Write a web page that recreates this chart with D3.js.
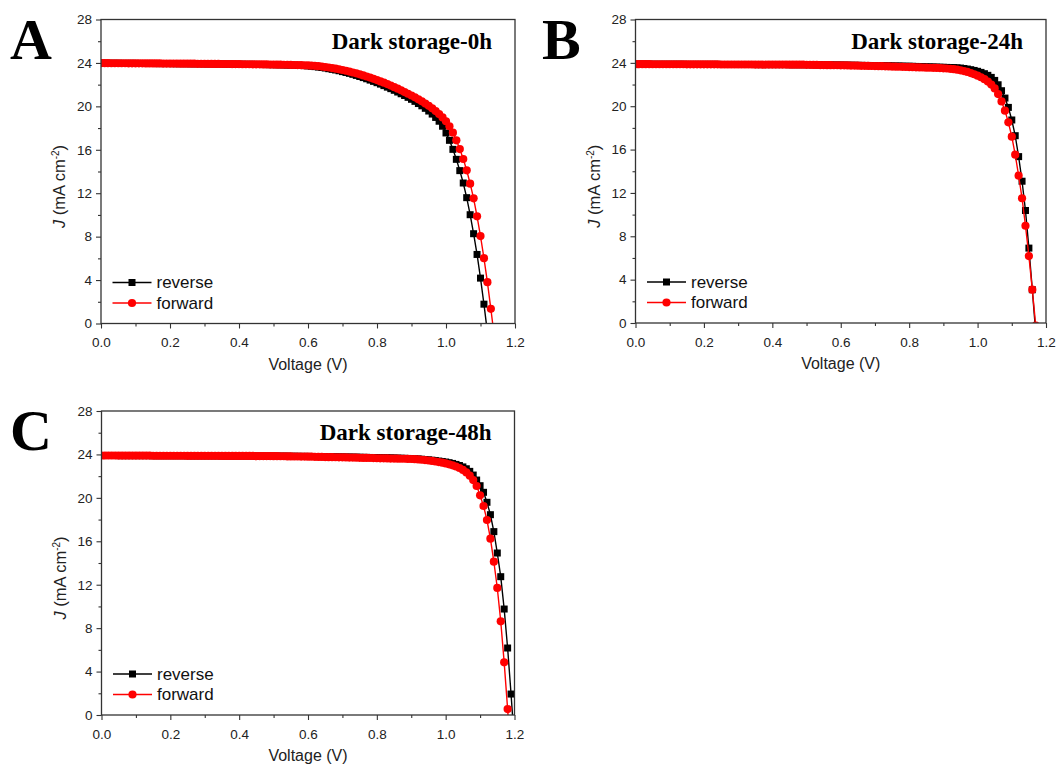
<!DOCTYPE html>
<html>
<head>
<meta charset="utf-8">
<script src="https://cdn.jsdelivr.net/npm/d3@7"></script>
<style>
  html, body { margin: 0; padding: 0; background: #fff; }
  svg { display: block; }
</style>
</head>
<body>
<svg id="fig" width="1058" height="765"></svg>
<script>
// Voltage sweep points (V), shared by every J-V scan
const voltage = [
  0.00,0.01,0.02,0.03,0.04,0.05,0.06,0.07,0.08,0.09,
  0.10,0.11,0.12,0.13,0.14,0.15,0.16,0.17,0.18,0.19,
  0.20,0.21,0.22,0.23,0.24,0.25,0.26,0.27,0.28,0.29,
  0.30,0.31,0.32,0.33,0.34,0.35,0.36,0.37,0.38,0.39,
  0.40,0.41,0.42,0.43,0.44,0.45,0.46,0.47,0.48,0.49,
  0.50,0.51,0.52,0.53,0.54,0.55,0.56,0.57,0.58,0.59,
  0.60,0.61,0.62,0.63,0.64,0.65,0.66,0.67,0.68,0.69,
  0.70,0.71,0.72,0.73,0.74,0.75,0.76,0.77,0.78,0.79,
  0.80,0.81,0.82,0.83,0.84,0.85,0.86,0.87,0.88,0.89,
  0.90,0.91,0.92,0.93,0.94,0.95,0.96,0.97,0.98,0.99,
  1.00,1.01,1.02,1.03,1.04,1.05,1.06,1.07,1.08,1.09,
  1.10,1.11,1.12,1.13,1.14,1.15,1.16,1.17,1.18,1.19,
  1.20
];

// Current density J (mA cm^-2) at each voltage point
// Dark storage 0 h
const reverse0h = [
  23.98,23.97,23.97,23.97,23.97,23.97,23.96,23.96,23.96,23.96,
  23.96,23.95,23.95,23.95,23.95,23.95,23.94,23.94,23.94,23.94,
  23.94,23.93,23.93,23.93,23.93,23.93,23.92,23.92,23.92,23.92,
  23.91,23.91,23.91,23.90,23.90,23.90,23.89,23.89,23.89,23.88,
  23.88,23.88,23.87,23.87,23.87,23.86,23.86,23.85,23.85,23.84,
  23.84,23.83,23.83,23.82,23.81,23.80,23.79,23.78,23.77,23.75,
  23.73,23.70,23.66,23.62,23.58,23.53,23.47,23.41,23.35,23.28,
  23.20,23.12,23.04,22.95,22.85,22.75,22.65,22.54,22.42,22.30,
  22.18,22.05,21.91,21.77,21.63,21.48,21.32,21.16,21.00,20.83,
  20.65,20.46,20.26,20.05,19.82,19.57,19.29,18.98,18.63,18.17,
  17.55,16.87,16.04,15.12,14.08,12.94,11.59,10.02,8.27,6.36,
  4.18,1.78,-0.80
];
const forward0h = [
  23.98,23.98,23.98,23.97,23.97,23.97,23.97,23.97,23.96,23.96,
  23.96,23.96,23.96,23.95,23.95,23.95,23.95,23.95,23.94,23.94,
  23.94,23.94,23.94,23.93,23.93,23.93,23.93,23.93,23.92,23.92,
  23.92,23.92,23.91,23.91,23.91,23.90,23.90,23.90,23.89,23.89,
  23.89,23.88,23.88,23.88,23.87,23.87,23.87,23.86,23.86,23.85,
  23.85,23.84,23.84,23.83,23.83,23.82,23.81,23.80,23.79,23.78,
  23.77,23.75,23.73,23.70,23.66,23.62,23.58,23.53,23.47,23.41,
  23.35,23.28,23.20,23.12,23.04,22.95,22.85,22.75,22.65,22.54,
  22.42,22.30,22.18,22.05,21.91,21.77,21.63,21.48,21.32,21.16,
  21.00,20.83,20.65,20.46,20.26,20.05,19.82,19.57,19.29,18.98,
  18.63,18.17,17.58,16.87,16.07,15.15,14.11,12.88,11.53,9.87,
  8.05,6.02,3.81,1.35,-1.20
];
// Dark storage 24 h
const reverse24h = [
  23.88,23.88,23.88,23.88,23.88,23.87,23.87,23.87,23.87,23.87,
  23.87,23.87,23.87,23.87,23.87,23.86,23.86,23.86,23.86,23.86,
  23.86,23.86,23.86,23.86,23.86,23.85,23.85,23.85,23.85,23.85,
  23.85,23.85,23.85,23.85,23.85,23.84,23.84,23.84,23.84,23.84,
  23.84,23.84,23.84,23.84,23.84,23.83,23.83,23.83,23.83,23.83,
  23.83,23.83,23.82,23.82,23.82,23.81,23.81,23.81,23.80,23.80,
  23.80,23.79,23.79,23.78,23.78,23.77,23.77,23.76,23.76,23.75,
  23.75,23.74,23.74,23.73,23.73,23.72,23.71,23.71,23.70,23.69,
  23.69,23.68,23.67,23.66,23.65,23.64,23.63,23.62,23.61,23.60,
  23.59,23.58,23.57,23.56,23.54,23.52,23.48,23.43,23.37,23.30,
  23.22,23.12,23.00,22.85,22.66,22.38,21.98,21.43,20.75,19.89,
  18.73,17.28,15.35,13.08,10.38,6.91,3.07,-0.90
];
const forward24h = [
  23.88,23.88,23.88,23.88,23.88,23.87,23.87,23.87,23.87,23.87,
  23.87,23.87,23.87,23.87,23.87,23.86,23.86,23.86,23.86,23.86,
  23.86,23.86,23.86,23.86,23.86,23.85,23.85,23.85,23.85,23.85,
  23.85,23.85,23.85,23.85,23.85,23.84,23.84,23.84,23.84,23.84,
  23.84,23.84,23.84,23.84,23.84,23.83,23.83,23.83,23.83,23.83,
  23.82,23.82,23.81,23.81,23.80,23.80,23.79,23.79,23.78,23.78,
  23.77,23.77,23.76,23.75,23.75,23.74,23.73,23.73,23.72,23.71,
  23.70,23.69,23.69,23.68,23.67,23.66,23.65,23.64,23.63,23.62,
  23.61,23.60,23.59,23.58,23.57,23.56,23.55,23.54,23.53,23.52,
  23.50,23.48,23.45,23.42,23.37,23.31,23.24,23.16,23.06,22.95,
  22.82,22.67,22.49,22.27,22.00,21.64,21.12,20.44,19.59,18.51,
  17.19,15.53,13.60,11.51,8.97,6.17,3.07,-0.25
];
// Dark storage 48 h
const reverse48h = [
  23.90,23.90,23.90,23.90,23.90,23.89,23.89,23.89,23.89,23.89,
  23.89,23.89,23.89,23.89,23.89,23.88,23.88,23.88,23.88,23.88,
  23.88,23.88,23.88,23.88,23.88,23.87,23.87,23.87,23.87,23.87,
  23.87,23.87,23.87,23.87,23.87,23.86,23.86,23.86,23.86,23.86,
  23.86,23.86,23.86,23.86,23.86,23.85,23.85,23.85,23.85,23.85,
  23.85,23.85,23.84,23.84,23.84,23.83,23.83,23.83,23.82,23.82,
  23.82,23.81,23.81,23.80,23.80,23.79,23.79,23.78,23.78,23.77,
  23.77,23.76,23.76,23.75,23.75,23.74,23.73,23.73,23.72,23.71,
  23.71,23.70,23.69,23.69,23.68,23.67,23.66,23.65,23.64,23.63,
  23.62,23.60,23.58,23.56,23.53,23.50,23.47,23.43,23.39,23.35,
  23.30,23.24,23.17,23.08,22.98,22.85,22.68,22.44,22.10,21.64,
  21.12,20.51,19.59,18.45,16.89,14.92,12.74,9.76,6.17,1.93,
  -2.70
];
const forward48h = [
  23.90,23.90,23.90,23.90,23.90,23.89,23.89,23.89,23.89,23.89,
  23.89,23.89,23.89,23.89,23.89,23.88,23.88,23.88,23.88,23.88,
  23.88,23.88,23.88,23.88,23.88,23.87,23.87,23.87,23.87,23.87,
  23.87,23.87,23.87,23.87,23.87,23.86,23.86,23.86,23.86,23.86,
  23.86,23.86,23.86,23.86,23.86,23.85,23.85,23.85,23.85,23.85,
  23.84,23.84,23.83,23.83,23.82,23.82,23.81,23.81,23.80,23.80,
  23.79,23.79,23.78,23.77,23.77,23.76,23.75,23.75,23.74,23.73,
  23.73,23.72,23.71,23.71,23.70,23.69,23.68,23.68,23.67,23.66,
  23.65,23.64,23.64,23.63,23.62,23.62,23.61,23.60,23.60,23.59,
  23.58,23.56,23.54,23.51,23.48,23.44,23.40,23.35,23.30,23.24,
  23.17,23.09,23.00,22.89,22.75,22.57,22.34,22.04,21.64,21.09,
  20.23,19.25,17.96,16.24,14.12,11.70,8.63,4.85,0.55,-4.05
];

// Axis tick values
const xMajorTicks = [0.0, 0.2, 0.4, 0.6, 0.8, 1.0, 1.2];
const xMinorTicks = [0.1, 0.3, 0.5, 0.7, 0.9, 1.1];
const yMajorTicks = [0, 4, 8, 12, 16, 20, 24, 28];
const yMinorTicks = [2, 6, 10, 14, 18, 22, 26];

const scanLabels = ["reverse", "forward"];
const panelLetters = ["A", "B", "C"];
const panelTitles = ["Dark storage-0h", "Dark storage-24h", "Dark storage-48h"];

const SANS = "'Liberation Sans', Arial, Helvetica, sans-serif";
const SERIF = "'Liberation Serif', 'Times New Roman', Times, serif";

// Layout of each panel's plotting frame (pixels)
const layout = [
  { left: 101,   right: 515,  bottom: 323.5, top: 19.5, letterX: 10,  letterY: 59 },
  { left: 635.5, right: 1046, bottom: 323,   top: 19.5, letterX: 542, letterY: 59 },
  { left: 101.5, right: 514.5, bottom: 715,  top: 411,  letterX: 10,  letterY: 450 }
];
const scans = [
  [reverse0h, forward0h],
  [reverse24h, forward24h],
  [reverse48h, forward48h]
];
const scanStyle = [
  { color: "#000000", symbol: "square" },
  { color: "#ff0000", symbol: "circle" }
];

const fig = d3.select("#fig");
fig.append("rect").attr("width", 1058).attr("height", 765).attr("fill", "#ffffff");

function drawSymbol(sel, symbol, color) {
  if (symbol === "square") {
    sel.append("rect")
      .attr("x", -3.5).attr("y", -3.5)
      .attr("width", 7).attr("height", 7)
      .attr("fill", color);
  } else {
    sel.append("circle").attr("r", 4.1).attr("fill", color);
  }
}

layout.forEach((L, pi) => {
  const g = fig.append("g");
  const x = d3.scaleLinear().domain([0, 1.2]).range([L.left, L.right]);
  const y = d3.scaleLinear().domain([0, 28]).range([L.bottom, L.top]);

  const clipId = "clip" + pi;
  g.append("clipPath").attr("id", clipId)
    .append("rect")
    .attr("x", L.left).attr("y", L.top)
    .attr("width", L.right - L.left).attr("height", L.bottom - L.top);

  // Curves: line plus symbol for each scan direction
  const plot = g.append("g").attr("clip-path", `url(#${clipId})`);
  scans[pi].forEach((series, si) => {
    const st = scanStyle[si];
    const pts = series.map((j, i) => [voltage[i], j]);
    const line = d3.line().x(d => x(d[0])).y(d => y(d[1]));
    plot.append("path")
      .attr("d", line(pts))
      .attr("fill", "none")
      .attr("stroke", st.color)
      .attr("stroke-width", 1.4);
    const marks = plot.append("g").selectAll("g")
      .data(pts).join("g")
      .attr("transform", d => `translate(${x(d[0])},${y(d[1])})`);
    drawSymbol(marks, st.symbol, st.color);
  });

  // Ticks
  const axisStyle = a => {
    a.select(".domain").remove();
    a.selectAll("line").attr("stroke", "#333").attr("stroke-width", 1.1);
    a.selectAll("text").attr("fill", "#222").style("font-family", SANS).style("font-size", "13.5px");
  };
  g.append("g").attr("transform", `translate(0,${L.bottom})`)
    .call(d3.axisBottom(x).tickValues(xMinorTicks).tickSize(3).tickFormat(""))
    .call(axisStyle);
  g.append("g").attr("transform", `translate(0,${L.bottom})`)
    .call(d3.axisBottom(x).tickValues(xMajorTicks).tickSize(5).tickPadding(9).tickFormat(d3.format(".1f")))
    .call(axisStyle);
  g.append("g").attr("transform", `translate(${L.left},0)`)
    .call(d3.axisLeft(y).tickValues(yMinorTicks).tickSize(3).tickFormat(""))
    .call(axisStyle);
  g.append("g").attr("transform", `translate(${L.left},0)`)
    .call(d3.axisLeft(y).tickValues(yMajorTicks).tickSize(5).tickPadding(4).tickFormat(d3.format("d")))
    .call(axisStyle);

  // Frame
  g.append("rect")
    .attr("x", L.left).attr("y", L.top)
    .attr("width", L.right - L.left).attr("height", L.bottom - L.top)
    .attr("fill", "none").attr("stroke", "#333").attr("stroke-width", 1.3);

  // Axis titles
  g.append("text")
    .attr("x", (L.left + L.right) / 2).attr("y", L.bottom + 46)
    .attr("text-anchor", "middle")
    .style("font-family", SANS).style("font-size", "16px").attr("fill", "#222")
    .text("Voltage (V)");

  const yl = g.append("text")
    .attr("transform", `translate(${L.left - 36},${(L.top + L.bottom) / 2 + 15}) rotate(-90)`)
    .attr("text-anchor", "middle")
    .style("font-family", SANS).style("font-size", "16.5px").attr("fill", "#222");
  yl.append("tspan").style("font-style", "italic").text("J");
  yl.append("tspan").text(" (mA cm");
  yl.append("tspan").attr("dy", -6).style("font-size", "10px").text("-2");
  yl.append("tspan").attr("dy", 6).text(")");

  // Legend
  const lg = g.append("g");
  scanLabels.forEach((lab, si) => {
    const st = scanStyle[si];
    const ly = L.bottom - 41 + si * 20.5;
    lg.append("line")
      .attr("x1", L.left + 11.5).attr("x2", L.left + 50.5)
      .attr("y1", ly).attr("y2", ly)
      .attr("stroke", st.color).attr("stroke-width", 1.5);
    const m = lg.append("g").attr("transform", `translate(${L.left + 31},${ly})`);
    drawSymbol(m, st.symbol, st.color);
    lg.append("text")
      .attr("x", L.left + 55.5).attr("y", ly).attr("dy", "0.35em")
      .style("font-family", SANS).style("font-size", "17px").attr("fill", "#111")
      .text(lab);
  });

  // Panel title and letter
  g.append("text")
    .attr("x", L.right - 23).attr("y", L.top + 29)
    .attr("text-anchor", "end")
    .style("font-family", SERIF).style("font-weight", "bold").style("font-size", "23px")
    .attr("fill", "#000")
    .text(panelTitles[pi]);
  g.append("text")
    .attr("x", L.letterX).attr("y", L.letterY)
    .style("font-family", SERIF).style("font-weight", "bold").style("font-size", "58px")
    .attr("fill", "#000")
    .text(panelLetters[pi]);
});
</script>
</body>
</html>
